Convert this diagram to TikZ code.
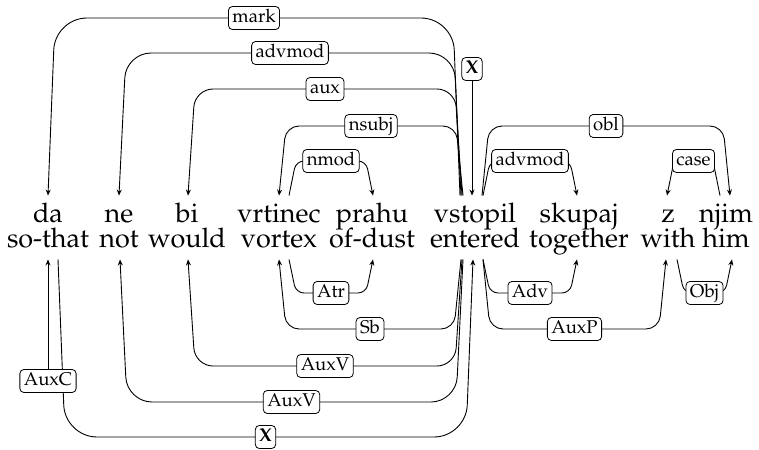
\documentclass[tikz,border=0pt]{standalone}
\usepackage[T1]{fontenc}
\usepackage{mathpazo}
\usetikzlibrary{arrows.meta}

\begin{document}
\begin{tikzpicture}[x=1pt, y=-1pt, line width=0.9pt, >={Stealth[length=6pt,width=5pt]},
    word/.style={font=\fontsize{27}{30}\selectfont, anchor=base, text height=20pt, text depth=6pt, inner xsep=0pt, inner ysep=6pt},
    lab/.style={draw, fill=white, rounded corners=4pt, font=\fontsize{18.5}{20}\selectfont, text height=13pt, text depth=4pt, inner xsep=4pt, inner ysep=3pt, line width=0.8pt}]
    \useasboundingbox (0,0) rectangle (759,449);
    \node[word] (w1) at (48,222) {da};
    \node[word] (w2) at (119,222) {ne};
    \node[word] (w3) at (187,222) {bi};
    \node[word] (w4) at (279,222) {vrtinec};
    \node[word] (w5) at (372,222) {prahu};
    \node[word] (w6) at (475,222) {vstopil};
    \node[word] (w7) at (579,222) {skupaj};
    \node[word] (w8) at (668,222) {z};
    \node[word] (w9) at (726,222) {njim};
    \node[word] (g1) at (48,247) {so-that};
    \node[word] (g2) at (119,247) {not};
    \node[word] (g3) at (187,247) {would};
    \node[word] (g4) at (279,247) {vortex};
    \node[word] (g5) at (372,247) {of-dust};
    \node[word] (g6) at (475,247) {entered};
    \node[word] (g7) at (579,247) {together};
    \node[word] (g8) at (668,247) {with};
    \node[word] (g9) at (726,247) {him};
    \coordinate (up1) at (0,161); \coordinate (up2) at (0,126); \coordinate (up3) at (0,89);
    \coordinate (up4) at (0,53); \coordinate (up5) at (0,18);
    \coordinate (dn1) at (0,293); \coordinate (dn2) at (0,329); \coordinate (dn3) at (0,366);
    \coordinate (dn4) at (0,402); \coordinate (dn5) at (0,437);
    % above the words
    \draw[->, rounded corners=32pt] ([xshift=-15pt]w6.north) -- ([xshift=-22pt]w6.north |- up5) -- node[lab] {mark} ([xshift=7pt]w1.north |- up5) -- (w1.north);
    \draw[->, rounded corners=25pt] ([xshift=-14pt]w6.north) -- ([xshift=-21pt]w6.north |- up4) -- node[lab] {advmod} ([xshift=7pt]w2.north |- up4) -- (w2.north);
    \draw[->, rounded corners=18pt] ([xshift=-13pt]w6.north) -- ([xshift=-20pt]w6.north |- up3) -- node[lab] {aux} ([xshift=8pt]w3.north |- up3) -- ([xshift=1pt]w3.north);
    \draw[->, rounded corners=13pt] ([xshift=-12pt]w6.north) -- ([xshift=-19pt]w6.north |- up2) -- node[lab] {nsubj} ([xshift=7pt]w4.north |- up2) -- (w4.north);
    \draw[->, rounded corners=8pt] ([xshift=10pt]w4.north) -- ([xshift=17pt]w4.north |- up1) -- node[lab] {nmod} ([xshift=-6pt]w5.north |- up1) -- ([xshift=1pt]w5.north);
    \node[lab, font=\fontsize{18.5}{20}\selectfont\bfseries] (rootv) at (472,69) {X};
    \draw[->] (rootv) -- (rootv |- w6.north);
    \draw[->, rounded corners=13pt] ([xshift=7pt]w6.north) -- ([xshift=14pt]w6.north |- up2) -- node[lab] {obl} ([xshift=-3pt]w9.north |- up2) -- ([xshift=4pt]w9.north);
    \draw[->, rounded corners=8pt] ([xshift=8pt]w6.north) -- ([xshift=15pt]w6.north |- up1) -- node[lab] {advmod} ([xshift=-9pt]w7.north |- up1) -- ([xshift=-2pt]w7.north);
    \draw[->, rounded corners=8pt] ([xshift=-6pt]w9.north) -- ([xshift=-13pt]w9.north |- up1) -- node[lab] {case} ([xshift=6pt]w8.north |- up1) -- ([xshift=-1pt]w8.north);
    % below the glosses
    \draw[->, rounded corners=8pt] ([xshift=10pt]g4.south) -- ([xshift=17pt]g4.south |- dn1) -- node[lab] {Atr} ([xshift=-6pt]g5.south |- dn1) -- ([xshift=1pt]g5.south);
    \draw[->, rounded corners=13pt] ([xshift=-14pt]g6.south) -- ([xshift=-21pt]g6.south |- dn2) -- node[lab] {Sb} ([xshift=7pt]g4.south |- dn2) -- (g4.south);
    \draw[->, rounded corners=18pt] ([xshift=-13pt]g6.south) -- ([xshift=-20pt]g6.south |- dn3) -- node[lab] {AuxV} ([xshift=8pt]g3.south |- dn3) -- ([xshift=1pt]g3.south);
    \draw[->, rounded corners=25pt] ([xshift=-12pt]g6.south) -- ([xshift=-19pt]g6.south |- dn4) -- node[lab] {AuxV} ([xshift=8pt]g2.south |- dn4) -- ([xshift=1pt]g2.south);
    \draw[->, rounded corners=32pt] ([xshift=10pt]g1.south) -- ([xshift=17pt]g1.south |- dn5) -- node[lab, font=\fontsize{18.5}{20}\selectfont\bfseries] {X} ([xshift=-9pt]g6.south |- dn5) -- ([xshift=-2pt]g6.south);
    \node[lab] (rootd) at (48,381) {AuxC};
    \draw[->] (rootd) -- (rootd |- g1.south);
    \draw[->, rounded corners=8pt] ([xshift=8pt]g6.south) -- ([xshift=15pt]g6.south |- dn1) -- node[lab] {Adv} ([xshift=-9pt]g7.south |- dn1) -- ([xshift=-2pt]g7.south);
    \draw[->, rounded corners=13pt] ([xshift=8pt]g6.south) -- ([xshift=15pt]g6.south |- dn2) -- node[lab] {AuxP} ([xshift=-9pt]g8.south |- dn2) -- ([xshift=-2pt]g8.south);
    \draw[->, rounded corners=8pt] ([xshift=9pt]g8.south) -- ([xshift=16pt]g8.south |- dn1) -- node[lab] {Obj} ([xshift=-1pt]g9.south |- dn1) -- ([xshift=6pt]g9.south);
\end{tikzpicture}
\end{document}
